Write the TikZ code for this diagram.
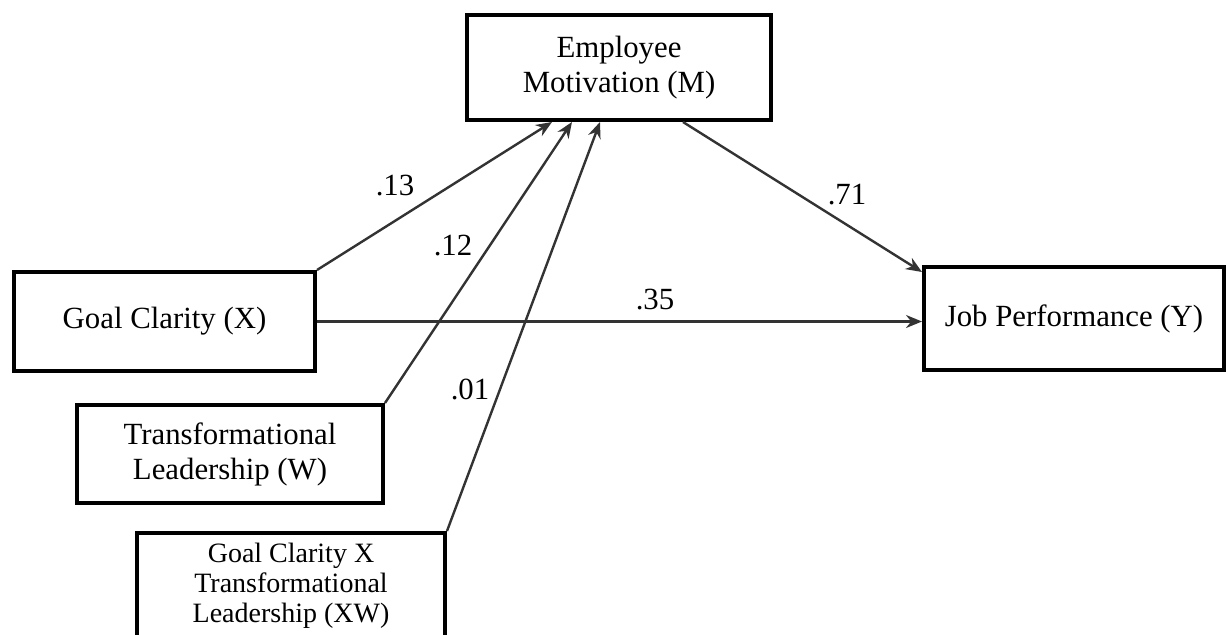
\documentclass[tikz,border=0pt]{standalone}
\usepackage{fontspec}
\setmainfont{Liberation Serif}
\usetikzlibrary{
  arrows.meta,
  positioning,  % Function "of" (e.g. [right=of x])
  calc,         % Calculations $...$
}
\def\mylw{2pt}
\def\mytxt{\fontsize{15.4}{17.5}\selectfont}
\tikzset{
  semithick,
  >={Stealth[length=8pt,width=6.5pt]},
  my box/.style={
    draw,
    line width=\mylw,
    rectangle,
    align=center,
    inner sep=0pt,
    font=\mytxt
  },
  my path/.style={
    ->,
    draw=black!80,
    line width=1.2pt
  },
  my weight/.style={
    font=\mytxt,
    inner sep=1pt
  }
}
\begin{document}
\begin{tikzpicture}[x=0.5pt,y=-0.5pt]
\useasboundingbox (0,0) rectangle (1228,634);
\node[my box,minimum width=152pt,minimum height=52.5pt]  (M)  at (619,67.5)  {Employee\\Motivation (M)};
\node[my box,minimum width=150.5pt,minimum height=49.5pt] (X)  at (164.5,321.5) {Goal Clarity (X)};
\node[my box,minimum width=150pt,minimum height=51.5pt]  (Y)  at (1074,318.5) {Job Performance (Y)};
\node[my box,minimum width=153pt,minimum height=49pt]    (W)  at (230,454)   {Transformational\\Leadership (W)};
\node[my box,minimum width=154pt,minimum height=53pt,
      font=\fontsize{14}{15}\selectfont]                  (XW) at (291,586)   {Goal Clarity X\\Transformational\\Leadership (XW)};
% path weights
\node[my weight] (w13) at (395,186) {.13};
\node[my weight] (w12) at (453,246) {.12};
\node[my weight] (w01) at (470,389) {.01};
\node[my weight] (w35) at (655,300) {.35};
\node[my weight] (w71) at (847,195) {.71};
% paths
\draw[my path] (X.north east)  -- ([xshift=-33.5pt]M.south);
\draw[my path] (W.north east)  -- ([xshift=-23.5pt]M.south);
\draw[my path] (XW.north east) -- ([xshift=-9.5pt]M.south);
\draw[my path] ([xshift=32pt]M.south) -- ([yshift=-3.5pt]Y.north west);
\draw[my path] (X.east) -- (X.east -| Y.west);
\end{tikzpicture}
\end{document}
